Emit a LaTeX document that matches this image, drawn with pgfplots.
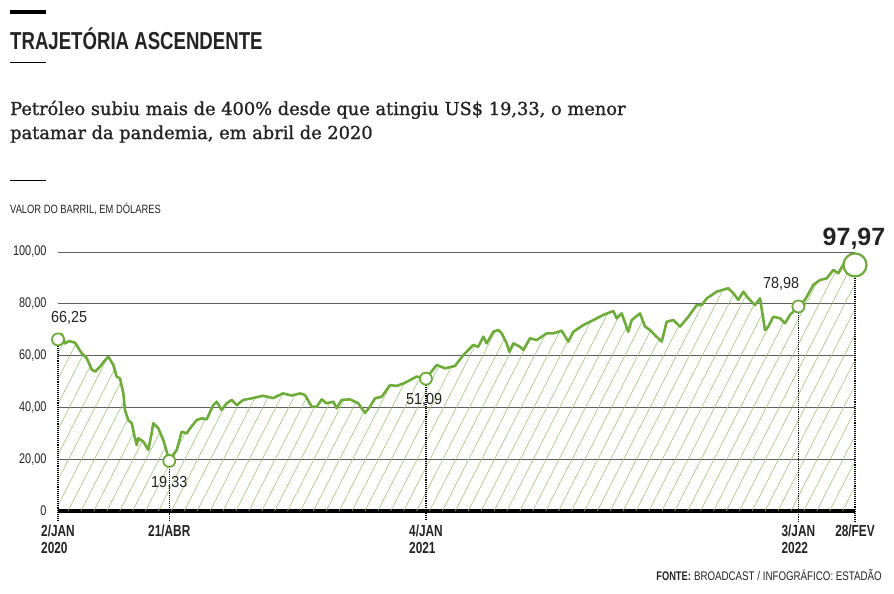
\documentclass[border=0pt]{standalone}
\usepackage{fontspec}
\usepackage{pgfplots}
\pgfplotsset{compat=1.18}
\usetikzlibrary{patterns.meta}
\setmainfont{Liberation Serif}
\newfontfamily\subfont[FakeBold=1.2]{DejaVu Serif}
\newfontfamily\cond[FakeStretch=0.78]{Liberation Sans}
\newfontfamily\condm[FakeStretch=0.9]{Liberation Sans}
\newfontfamily\condb[FakeStretch=0.74]{Liberation Sans Bold}
\newfontfamily\condt[FakeStretch=0.76]{Liberation Sans Bold}
\newfontfamily\heavy{Liberation Sans Bold}
\definecolor{oilgreen}{RGB}{110,172,58}
\definecolor{hatchgreen}{RGB}{150,196,110}
\definecolor{gridgray}{RGB}{95,95,95}
\definecolor{txt}{RGB}{35,35,35}

% preco do barril, dias desde 2/jan/2020
\pgfplotstableread{
x y
0 66.25
3.7 68.3
6.9 64.7
11 65.6
16.8 65
20 63
23.4 60.9
28.4 59
33.3 54.7
36.6 53.8
41.5 55.7
45 57.5
49.7 59.6
54.7 56.4
58.0 51.9
61.3 51.2
64.6 45.4
66.2 39
69.5 35.1
72.9 33.9
76.1 28.1
77.8 25.5
79.4 28.1
84.3 26.8
89.3 23.6
92.6 30
94.2 33.9
99.2 31.9
104.1 27.4
107.5 22.9
110 19.33
117.4 23.6
122.3 30.6
127.2 30
130.5 31.9
137.1 35.1
142.1 35.8
147.0 35.4
153.5 40.9
156.9 42.2
161.8 39
166.8 41.6
171.7 42.9
176.7 40.9
183.2 42.9
192.8 43.6
202.7 44.5
212.6 43.6
222.5 45.4
231 44.6
239.3 45.4
244.2 44.8
250.8 40.3
255.8 40.3
260.7 43.1
265.4 41.6
272.2 42.2
275.5 39.7
280.5 42.9
288.7 43.1
296.9 41.6
303.5 37.9
308.5 40.3
313.4 43.5
320.0 44.1
328.3 48.6
334.9 48.3
343.1 49.5
354.6 51.9
363.8 51.09
374.4 56.4
382.6 55.1
392.5 56
400.7 60.2
410.6 64.1
415.5 63.4
420.5 67.3
423.8 64.7
430.4 69.2
435.3 69.9
438.7 68.6
443.6 64.7
446.2 61.5
450.2 64.7
456.8 63.4
460.1 62.2
466.7 66.7
473.3 66
483.2 68.6
489.7 68.6
498.0 69.6
504.5 65.4
509.5 69.2
519.4 71.8
529.3 73.7
539.1 75.7
549.0 77.2
552.4 74.4
557.3 76.3
563.8 69.2
567.2 73.7
575.4 76.3
580.4 71.2
585.3 69.9
591.2 67.5
596.9 65.4
601.8 73.1
608.4 73.7
615.0 71.2
623.2 75
631.5 79.5
636.4 79.5
641.4 82.1
651.3 84.7
662.7 86
667.7 84.1
672.6 81.5
677.6 84.7
682.5 82.1
689.1 79.5
694.1 82.1
699.0 69.9
702.3 71.2
707.2 75
713.9 74.4
718.8 72.5
723.7 75.7
732 78.98
738.6 81.5
746.8 87.3
753.4 89.2
760.0 89.8
766.5 93.1
771.5 91.8
778.1 96.3
788 95
}\oil

\begin{document}
\begin{tikzpicture}[x=1pt,y=1pt]
\useasboundingbox (0,0) rectangle (894,-594);
% cabecalho
\draw[line width=4pt, black] (10,-12) -- (46,-12);
\node[anchor=base west, inner sep=0, text=txt] at (10,-50) {\condt\fontsize{24.5}{26}\selectfont TRAJETÓRIA ASCENDENTE};
\draw[line width=0.9pt, black] (10,-62) -- (46,-62);
\node[anchor=base west, inner sep=0, text=txt, align=left, font=\subfont\fontsize{17.8}{24}\selectfont] at (10,-139)
  {Petróleo subiu mais de 400\% desde que atingiu US\$ 19,33, o menor\\patamar da pandemia, em abril de 2020};
\draw[line width=0.9pt, black] (10,-180) -- (46,-180);
\node[anchor=base west, inner sep=0, text=txt] at (10,-213) {\cond\fontsize{12}{14}\selectfont VALOR DO BARRIL, EM DÓLARES};
\node[anchor=base east, inner sep=0, text=txt] at (882,-580) {\fontsize{12.5}{14}\selectfont{\condb FONTE:} {\cond BROADCAST / INFOGRÁFICO: ESTADÃO}};

\begin{axis}[
  at={(58pt,-511pt)}, anchor=south west,
  scale only axis, width=797pt, height=259pt,
  xmin=0, xmax=788, ymin=0, ymax=100,
  clip=false,
  axis x line*=bottom, axis y line*=left,
  x axis line style={line width=4.5pt, black, -},
  y axis line style={draw=none},
  ytick={0,20,40,60,80,100},
  yticklabels={0,{20,00},{40,00},{60,00},{80,00},{100,00}},
  ymajorgrids, grid style={gridgray, line width=1pt},
  major tick length=0pt,
  yticklabel style={font=\cond\fontsize{14}{16}\selectfont, text=txt, anchor=east, xshift=-8pt},
  xtick={0,110,363.8,732,788},
  xticklabels={{2/JAN\\2020},{21/ABR},{4/JAN\\2021},{3/JAN\\2022},{28/FEV}},
  xticklabel style={font=\condb\fontsize{16}{17}\selectfont, text=txt, align=left, anchor=north, yshift=-10pt},
]
\addplot[draw=none, pattern={Lines[angle=63, distance=11.5pt, line width=0.55pt]}, pattern color=hatchgreen]
  table[x=x, y=y] {\oil} \closedcycle;
% linhas pontilhadas
\addplot[black, line width=1.1pt, densely dotted] coordinates {(0,66.25) (0,-4)};
\addplot[black, line width=1.1pt, densely dotted] coordinates {(110,19.33) (110,-4)};
\addplot[black, line width=1.1pt, densely dotted] coordinates {(363.8,51.09) (363.8,-4)};
\addplot[black, line width=1.1pt, densely dotted] coordinates {(732,78.98) (732,-4)};
\addplot[black, line width=1.1pt, densely dotted] coordinates {(788,95) (788,-4)};
\addplot[oilgreen, line width=2.6pt, line join=round] table[x=x, y=y] {\oil};
\addplot[only marks, mark=*, mark size=6pt, mark options={fill=white, draw=oilgreen, line width=1.8pt}]
  coordinates {(0,66.25) (110,19.33) (363.8,51.09) (732,78.98)};
\addplot[only marks, mark=*, mark size=11.5pt, mark options={fill=white, draw=oilgreen, line width=2.2pt}]
  coordinates {(788,95)};
\node[anchor=south west, inner sep=0, text=txt, font=\condm\fontsize{16}{18}\selectfont] at (axis cs:-7,72) {66,25};
\node[anchor=north, inner sep=0, text=txt, font=\condm\fontsize{16}{18}\selectfont] at (axis cs:110,13.5) {19,33};
\node[anchor=north, inner sep=0, text=txt, font=\condm\fontsize{16}{18}\selectfont] at (axis cs:362,45.5) {51,09};
\node[anchor=south, inner sep=0, text=txt, font=\condm\fontsize{16}{18}\selectfont] at (axis cs:715,85) {78,98};
\node[anchor=base, inner sep=0, text=txt, font=\heavy\fontsize{25}{28}\selectfont] at (axis cs:787,102.5) {97,97};
\end{axis}
\end{tikzpicture}
\end{document}
